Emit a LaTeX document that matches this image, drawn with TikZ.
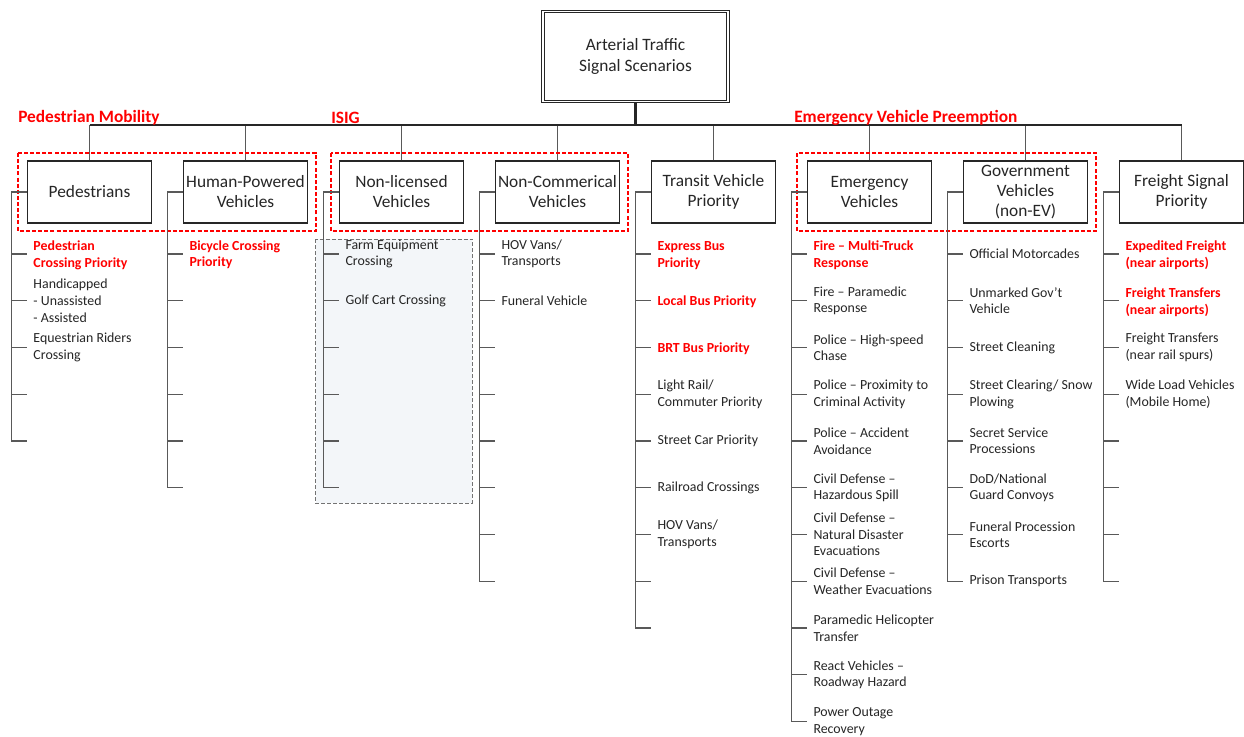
\documentclass[tikz,border=0pt]{standalone}
\usepackage{fontspec}
\setmainfont{Carlito}
\definecolor{hotred}{RGB}{255,0,0}
\definecolor{shade}{RGB}{243,246,249}
\definecolor{ink}{RGB}{38,38,38}
\definecolor{wire}{RGB}{89,89,89}
\begin{document}
\begin{tikzpicture}[x=0.75pt,y=-0.75pt,
  box/.style={draw=ink, line width=0.8pt, minimum width=93.4pt, minimum height=46.5pt,
              align=center, inner sep=1pt, font=\fontsize{13}{15}\selectfont, text=ink},
  rootbox/.style={draw=ink, double, line width=0.7pt, double distance=1.3pt,
              minimum width=138.75pt, minimum height=67.5pt, align=center,
              font=\fontsize{13}{15.5}\selectfont, text=ink},
  leaf/.style={anchor=west, align=left, inner sep=0pt, text=ink,
               font=\fontsize{10.4}{12.4}\selectfont},
  hot/.style={leaf, text=hotred, font=\fontsize{10.4}{12.4}\selectfont\bfseries, yshift=-1.1pt},
  grouplabel/.style={anchor=west, inner sep=0pt, text=hotred,
               font=\fontsize{13}{15}\selectfont\bfseries},
  tree/.style={draw=wire, line width=0.85pt},
  busline/.style={draw=ink, line width=1pt},
  stem/.style={draw=wire, line width=0.85pt},
  group/.style={draw=hotred, line width=1.6pt, dash pattern=on 3pt off 1.6pt},
  isigzone/.style={draw=black!55, fill=shade, line width=0.7pt, dash pattern=on 3pt off 1.5pt}
]
\useasboundingbox[fill=white] (0,0) rectangle (1244,736);

% shaded ISIG zone
\path[isigzone] (315.7,239) rectangle (472.3,503.3);

% root
\node[rootbox] (root) at (635.5,56.5) {Arterial Traffic\\Signal Scenarios};

% children
\node[box] (c1) at (89.5,192)  {Pedestrians};
\node[box] (c2) at (245.5,192) {Human-Powered\\Vehicles};
\node[box] (c3) at (401.5,192) {Non-licensed\\Vehicles};
\node[box] (c4) at (557.5,192) {Non-Commerical\\Vehicles};
\node[box] (c5) at (713.5,192) {Transit Vehicle\\Priority};
\node[box] (c6) at (869.5,192) {Emergency\\Vehicles};
\node[box] (c7) at (1025.5,192) {Government\\Vehicles\\(non-EV)};
\node[box] (c8) at (1181.5,192) {Freight Signal\\Priority};

% bus
\coordinate (bus) at (635.5,125);
\draw[stem] (c1.north) -- (c1.north |- bus);
\foreach \i in {2,...,8} {\draw[stem] (c\i.north) -- (c\i.north |- bus);}
\draw[busline] (c1.north |- bus) -- (c8.north |- bus);
\draw[draw=ink, line width=1.6pt] (root.south) -- (bus);

% group labels and groups
\node[grouplabel] (gl1) at (18,117.5) {Pedestrian Mobility};
\node[grouplabel] (gl2) at (331,117.5) {ISIG};
\node[grouplabel] (gl3) at (794,117.5) {Emergency Vehicle Preemption};
\draw[group] (18,153) rectangle (316,231);
\draw[group] (331,153) rectangle (628,231);
\draw[group] (797,153) rectangle (1096,231);

% trees
\foreach \i/\n in {1/5,2/6,3/6,4/8,5/9,6/11,7/8,8/8} {
  \foreach \k in {1,...,\n} {
    \path (c\i.west) ++(0,{62+46.75*(\k-1)}) coordinate (t\i-\k);
    \draw[tree] (t\i-\k) -- ++(-15,0);
  }
  \draw[tree] (c\i.west) -- ++(-15,0) |- (t\i-\n);
}

% leaves: column 1
\node[hot]  (l1-1) at ([xshift=4.9pt]t1-1) {Pedestrian\\Crossing Priority};
\node[leaf] (l1-2) at ([xshift=4.9pt]t1-2) {Handicapped\\- Unassisted\\- Assisted};
\node[leaf] (l1-3) at ([xshift=4.9pt]t1-3) {Equestrian Riders\\Crossing};
% column 2
\node[hot]  (l2-1) at ([xshift=4.9pt,yshift=0.6pt]t2-1) {Bicycle Crossing\\Priority};
% column 3
\node[leaf] (l3-1) at ([xshift=4.9pt]t3-1) {Farm Equipment\\Crossing};
\node[leaf] (l3-2) at ([xshift=4.9pt]t3-2) {Golf Cart Crossing};
% column 4
\node[leaf] (l4-1) at ([xshift=4.9pt]t4-1) {HOV Vans/\\Transports};
\node[leaf] (l4-2) at ([xshift=4.9pt]t4-2) {Funeral Vehicle};
% column 5
\node[hot]  (l5-1) at ([xshift=4.9pt]t5-1) {Express Bus\\Priority};
\node[hot]  (l5-2) at ([xshift=4.9pt]t5-2) {Local Bus Priority};
\node[hot]  (l5-3) at ([xshift=4.9pt]t5-3) {BRT Bus Priority};
\node[leaf] (l5-4) at ([xshift=4.9pt]t5-4) {Light Rail/\\Commuter Priority};
\node[leaf] (l5-5) at ([xshift=4.9pt]t5-5) {Street Car Priority};
\node[leaf] (l5-6) at ([xshift=4.9pt]t5-6) {Railroad Crossings};
\node[leaf] (l5-7) at ([xshift=4.9pt]t5-7) {HOV Vans/\\Transports};
% column 6
\node[hot]  (l6-1) at ([xshift=4.9pt]t6-1) {Fire – Multi-Truck\\Response};
\node[leaf] (l6-2) at ([xshift=4.9pt]t6-2) {Fire – Paramedic\\Response};
\node[leaf] (l6-3) at ([xshift=4.9pt]t6-3) {Police – High-speed\\Chase};
\node[leaf] (l6-4) at ([xshift=4.9pt]t6-4) {Police – Proximity to\\Criminal Activity};
\node[leaf] (l6-5) at ([xshift=4.9pt]t6-5) {Police – Accident\\Avoidance};
\node[leaf] (l6-6) at ([xshift=4.9pt]t6-6) {Civil Defense –\\Hazardous Spill};
\node[leaf] (l6-7) at ([xshift=4.9pt]t6-7) {Civil Defense –\\Natural Disaster\\Evacuations};
\node[leaf] (l6-8) at ([xshift=4.9pt]t6-8) {Civil Defense –\\Weather Evacuations};
\node[leaf] (l6-9) at ([xshift=4.9pt]t6-9) {Paramedic Helicopter\\Transfer};
\node[leaf] (l6-10) at ([xshift=4.9pt]t6-10) {React Vehicles –\\Roadway Hazard};
\node[leaf] (l6-11) at ([xshift=4.9pt]t6-11) {Power Outage\\Recovery};
% column 7
\node[leaf] (l7-1) at ([xshift=4.9pt]t7-1) {Official Motorcades};
\node[leaf] (l7-2) at ([xshift=4.9pt]t7-2) {Unmarked Gov’t\\Vehicle};
\node[leaf] (l7-3) at ([xshift=4.9pt]t7-3) {Street Cleaning};
\node[leaf] (l7-4) at ([xshift=4.9pt]t7-4) {Street Clearing/ Snow\\Plowing};
\node[leaf] (l7-5) at ([xshift=4.9pt]t7-5) {Secret Service\\Processions};
\node[leaf] (l7-6) at ([xshift=4.9pt]t7-6) {DoD/National\\Guard Convoys};
\node[leaf] (l7-7) at ([xshift=4.9pt]t7-7) {Funeral Procession\\Escorts};
\node[leaf] (l7-8) at ([xshift=4.9pt]t7-8) {Prison Transports};
% column 8
\node[hot]  (l8-1) at ([xshift=4.9pt]t8-1) {Expedited Freight\\(near airports)};
\node[hot]  (l8-2) at ([xshift=4.9pt]t8-2) {Freight Transfers\\(near airports)};
\node[leaf] (l8-3) at ([xshift=4.9pt]t8-3) {Freight Transfers\\(near rail spurs)};
\node[leaf] (l8-4) at ([xshift=4.9pt]t8-4) {Wide Load Vehicles\\(Mobile Home)};
\end{tikzpicture}
\end{document}
